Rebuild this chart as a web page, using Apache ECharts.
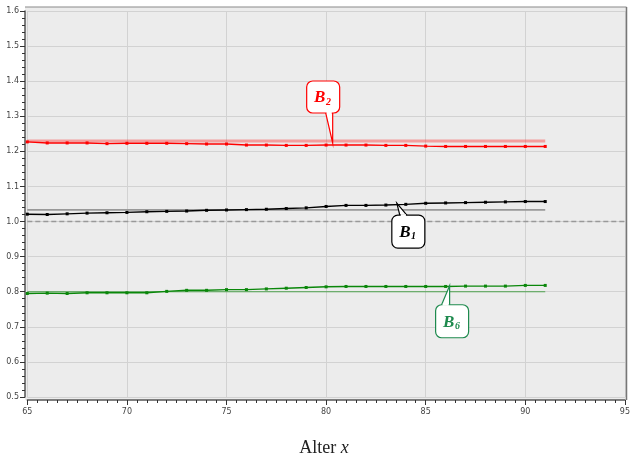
<!DOCTYPE html>
<html>
<head>
<meta charset="utf-8">
<script src="https://cdn.jsdelivr.net/npm/echarts@6/dist/echarts.min.js"></script>
<style>
html, body { margin: 0; padding: 0; background: #fff; }
#chart { width: 633px; height: 455px; }
</style>
</head>
<body>
<div id="chart"></div>
<script>
// Alter (x) und die drei Kurven
const ages = [65, 66, 67, 68, 69, 70, 71, 72, 73, 74, 75, 76, 77, 78, 79, 80, 81, 82, 83, 84, 85, 86, 87, 88, 89, 90, 91]
const seriesB2 = [1.227, 1.224, 1.224, 1.224, 1.222, 1.223, 1.223, 1.223, 1.222, 1.221, 1.221, 1.218, 1.218, 1.217, 1.217, 1.218, 1.218, 1.218, 1.217, 1.217, 1.215, 1.214, 1.214, 1.214, 1.214, 1.214, 1.214]
const seriesB1 = [1.021, 1.020, 1.022, 1.024, 1.025, 1.026, 1.028, 1.029, 1.030, 1.032, 1.033, 1.034, 1.035, 1.037, 1.039, 1.043, 1.046, 1.046, 1.047, 1.049, 1.052, 1.053, 1.054, 1.055, 1.056, 1.057, 1.057]
const seriesB6 = [0.795, 0.796, 0.795, 0.797, 0.797, 0.797, 0.797, 0.801, 0.804, 0.804, 0.806, 0.806, 0.808, 0.810, 0.812, 0.814, 0.815, 0.815, 0.815, 0.815, 0.815, 0.815, 0.816, 0.816, 0.816, 0.818, 0.818]

// Referenzniveaus (horizontale Linien)
const refB2 = 1.2296
const refB1 = 1.0334
const refB6 = 0.800
const baseline = 1.0
const refRange = [65, 91]
const baseRange = [65, 95]

// Beschriftungen der Kurven und ihre Ankerpunkte (Daten-Koordinaten)
const calloutNames = ['B', 'B', 'B']
const calloutSubs = ['2', '1', '6']
const calloutAnchors = [[80.33, 1.2239], [83.55, 1.0526], [86.2, 0.817]]

const xAxisName = ['Alter ', 'x']

// Layout der Sprechblasen relativ zur Spitze (Pixel): dx, dy, w, h, Basis links/rechts
const calloutLayout = [
  { color: '#ff0000', box: [-26, -62, 33, 32], base: [-7, 0], side: 'bottom' },
  { color: '#000000', box: [-5, 12, 33, 33], base: [3, 10], side: 'top' },
  { color: '#1e8a4e', box: [-14, 19, 33, 33], base: [-8, 0], side: 'top' }
]

const pairs = (xs, ys) => xs.map((x, i) => [x, ys[i]])
const flat = (range, v) => range.map(x => [x, v])

const chart = echarts.init(document.getElementById('chart'))

const axisFont = { fontSize: 8, color: '#444', fontFamily: 'DejaVu Sans' }

chart.setOption({
  animation: false,
  backgroundColor: '#fff',
  grid: { left: 27.3, right: 3.6, top: 11, bottom: 58 },
  xAxis: {
    type: 'value',
    min: 65,
    max: 95,
    interval: 5,
    offset: 3,
    axisLine: { onZero: false, lineStyle: { color: '#555', width: 1.5 } },
    axisTick: { length: 5, lineStyle: { color: '#333' } },
    minorTick: { show: true, splitNumber: 10, length: 3, lineStyle: { color: '#333' } },
    axisLabel: { margin: 8, ...axisFont },
    splitLine: { show: true, lineStyle: { color: '#d2d2d2', width: 1 } }
  },
  yAxis: {
    type: 'value',
    min: 0.5,
    max: 1.6,
    interval: 0.1,
    offset: 2.3,
    axisLine: { show: true, onZero: false, lineStyle: { color: '#555', width: 1.5 } },
    axisTick: { show: true, length: 5, lineStyle: { color: '#333' } },
    minorTick: { show: true, splitNumber: 5, length: 3, lineStyle: { color: '#333' } },
    axisLabel: { margin: 6, formatter: v => v.toFixed(1), ...axisFont },
    splitLine: { show: true, lineStyle: { color: '#d2d2d2', width: 1 } }
  },
  series: [
    {
      type: 'line', data: flat(baseRange, baseline), symbol: 'none', z: 1,
      lineStyle: { color: '#999', width: 1.5, type: [5, 3] }
    },
    {
      type: 'line', data: flat(refRange, refB2), symbol: 'none', z: 1,
      lineStyle: { color: 'rgba(255,40,40,0.4)', width: 3 }
    },
    {
      type: 'line', data: flat(refRange, refB1), symbol: 'none', z: 1,
      lineStyle: { color: '#999', width: 1.8 }
    },
    {
      type: 'line', data: flat(refRange, refB6), symbol: 'none', z: 1,
      lineStyle: { color: 'rgba(20,140,20,0.7)', width: 1.2 }
    },
    {
      name: 'B2', type: 'line', data: pairs(ages, seriesB2),
      symbol: 'rect', symbolSize: 3, showAllSymbol: true,
      lineStyle: { color: '#ff0000', width: 1.4 }, itemStyle: { color: '#ff0000' }
    },
    {
      name: 'B1', type: 'line', data: pairs(ages, seriesB1),
      symbol: 'rect', symbolSize: 3, showAllSymbol: true,
      lineStyle: { color: '#000', width: 1.4 }, itemStyle: { color: '#000' }
    },
    {
      name: 'B6', type: 'line', data: pairs(ages, seriesB6),
      symbol: 'rect', symbolSize: 3, showAllSymbol: true,
      lineStyle: { color: '#0a870a', width: 1.4 }, itemStyle: { color: '#0a870a' }
    }
  ]
})

// Rahmen, Achsentitel und Sprechblasen
function buildGraphics() {
  const p0 = chart.convertToPixel({ gridIndex: 0 }, [65, 1.6])
  const p1 = chart.convertToPixel({ gridIndex: 0 }, [95, 0.5])
  const fx0 = p0[0] - 2.3, fy0 = p0[1] - 4, fx1 = p1[0] + 1.6, fy1 = p1[1] + 3
  const els = [
    { type: 'rect', z: -10, silent: true, shape: { x: fx0, y: fy0, width: fx1 - fx0, height: fy1 - fy0 }, style: { fill: '#ececec' } },
    { type: 'line', z: 10, silent: true, shape: { x1: fx0, y1: fy0, x2: fx1, y2: fy0 }, style: { stroke: '#8a8a8a', lineWidth: 1.2 } },
    { type: 'line', z: 10, silent: true, shape: { x1: fx1, y1: fy0, x2: fx1, y2: fy1 }, style: { stroke: '#777', lineWidth: 1.5 } },
    {
      type: 'text', z: 10, x: (p0[0] + p1[0]) / 2 - 2, y: 448,
      style: {
        text: '{a|' + xAxisName[0] + '}{b|' + xAxisName[1] + '}',
        textAlign: 'center', textVerticalAlign: 'middle',
        rich: {
          a: { fontFamily: 'Liberation Serif', fontSize: 18, fill: '#222' },
          b: { fontFamily: 'Liberation Serif', fontSize: 18, fontStyle: 'italic', fill: '#222' }
        }
      }
    }
  ]

  calloutAnchors.forEach((anchor, i) => {
    const lay = calloutLayout[i]
    const tip = chart.convertToPixel({ gridIndex: 0 }, anchor)
    const x0 = tip[0] + lay.box[0], y0 = tip[1] + lay.box[1]
    const w = lay.box[2], h = lay.box[3]
    const bx0 = tip[0] + lay.base[0], bx1 = tip[0] + lay.base[1]
    const by = lay.side === 'bottom' ? y0 + h : y0
    const cx = x0 + w / 2, cy = y0 + h / 2
    els.push(
      { type: 'polygon', z: 50, shape: { points: [[bx0, by], tip, [bx1, by]] }, style: { fill: '#fff', stroke: lay.color, lineWidth: 1.2 } },
      { type: 'rect', z: 51, shape: { x: x0, y: y0, width: w, height: h, r: 6 }, style: { fill: '#fff', stroke: lay.color, lineWidth: 1.2 } },
      { type: 'line', z: 52, shape: { x1: bx0 + 0.9, y1: by, x2: bx1 - 0.9, y2: by }, style: { stroke: '#fff', lineWidth: 2 } },
      {
        type: 'text', z: 53, x: cx + 2.2, y: cy + 1,
        style: { text: calloutNames[i], font: 'italic bold 17px "Liberation Serif"', fill: lay.color, textAlign: 'right', textVerticalAlign: 'middle' }
      },
      {
        type: 'text', z: 53, x: cx + 2.8, y: cy + 5,
        style: { text: calloutSubs[i], font: 'italic bold 10px "Liberation Serif"', fill: lay.color, textAlign: 'left', textVerticalAlign: 'middle' }
      }
    )
  })
  return els
}

chart.setOption({ graphic: buildGraphics() })
</script>
</body>
</html>
